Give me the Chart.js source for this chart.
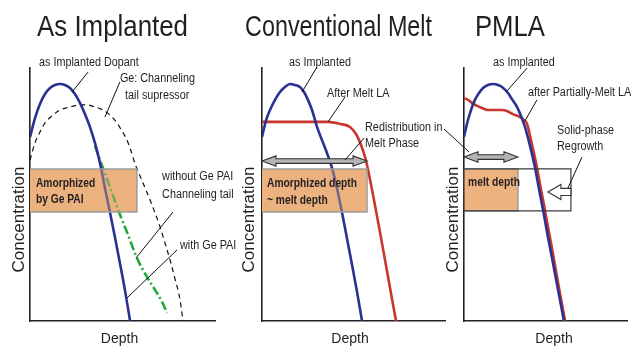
<!DOCTYPE html>
<html><head><meta charset="utf-8">
<script src="https://cdn.jsdelivr.net/npm/chart.js@4/dist/chart.umd.min.js"></script>
<style>
html,body{margin:0;padding:0;background:#fff;}
#wrap{position:relative;width:644px;height:348px;overflow:hidden;background:#fff;}
canvas{position:absolute;top:0;}
</style></head><body>
<div id="wrap">
<canvas id="c1" width="236" height="348" style="left:0px;width:236px;height:348px"></canvas>
<canvas id="c2" width="218" height="348" style="left:232px;width:218px;height:348px"></canvas>
<canvas id="c3" width="204" height="348" style="left:440px;width:204px;height:348px"></canvas>
</div>
<script>
// ---------- DATA (depth and concentration in arbitrary units, 0-100) ----------
// Panel 1: As Implanted
const p1BlueDepth = [0,2.7,5.4,8.1,10.8,13.5,16.2,18.9,21.6,24.3,27.0,29.7,32.4,35.1,37.8,40.5,43.2,45.9,48.6,51.4,54.1];
const p1BlueConc  = [72.7,80.2,85.8,89.7,92.1,93.3,93.7,93.3,92.1,89.7,86.2,81.8,76.7,70.4,62.5,52.6,43.1,33.2,22.9,11.9,0];
const p1GeDepth = [0,2.7,5.4,8.1,12.4,16.2,21.6,27.0,30.8,35.1,39.5,43.2,47.0,49.7,52.4,54.6,56.8,59.5,62.2,64.9,67.6,70.3,73.0,75.7,78.4,81.1,82.7];
const p1GeConc  = [63.6,70.4,74.7,78.3,81.4,83.4,84.6,85.4,85.4,84.6,83.4,81.4,78.3,75.1,71.5,67.2,62.1,57.3,52.6,47.8,42.7,37.2,30.8,24.1,16.6,8.3,0];
const p1TailDepth = [35.1,41.6,48.1,53.0,57.8,63.2,68.6,71.4,74.1];
const p1TailConc  = [69.2,56.1,43.1,34.0,24.9,17.4,11.1,7.5,3.2];
// Panel 2: Conventional Melt
const p2BlueDepth = [0,2.2,4.5,7.3,10.1,12.9,15.7,18.5,21.3,23.6,25.8,28.1,30.9,33.7,36.5,39.3,42.1,44.9,47.8,50.6,53.4,56.2];
const p2BlueConc  = [72.7,79.1,83.4,87.4,90.5,92.5,93.7,93.3,92.5,90.5,87.4,83.4,76.7,71.5,66.4,60.5,52.6,43.1,32.4,22.1,11.5,0];
const p2MeltDepth = [0,37.1,43.8,49.4,52.8,55.6,57.9,59.6,75.3];
const p2MeltConc  = [78.7,78.7,77.9,76.7,73.9,69.6,64.8,59.7,0];
// Panel 3: PMLA
const p3BlueDepth = [0,1.8,3.7,6.7,9.2,11.7,14.7,17.8,20.9,23.3,27.0,29.4,32.5,35.0,37.4,40.5,43.6,46.0,48.5,51.5,54.0,57.7,61.3];
const p3BlueConc  = [72.7,77.9,82.2,87.4,90.1,92.1,93.3,93.7,93.3,92.5,90.1,87.7,84.6,81.0,76.7,69.2,60.5,52.2,43.9,33.2,24.9,12.3,0];
const p3PmlaDepth = [0,2.5,4.9,8.0,11.0,14.7,19.0,23.3,26.4,28.8,31.3,34.4,36.8,38.7,41.1,44.2,46.6,49.1,52.1,54.6,58.3,62.0];
const p3PmlaConc  = [88.1,87.4,86.2,85.0,84.2,83.4,83.4,83.4,83.0,82.2,81.4,80.6,79.4,77.9,71.5,62.5,54.2,45.8,35.2,26.5,13.0,0];

const panelTitles = ['As Implanted','Conventional Melt','PMLA'];
const xAxisTitle = 'Depth';
const yAxisTitle = 'Concentration';

// ---------- STYLE ----------
const FONT = '"Liberation Sans", Arial, Helvetica, sans-serif';
const INK = '#231f20';
const BLUE = '#2b3192', RED = '#c8362c', GREEN = '#22a83e';
const ORANGE = 'rgb(236,178,128)';

function pts(xs, ys){ return xs.map((x,i)=>({x:x, y:ys[i]})); }

class OffsetLinear extends Chart.LinearScale {
  drawTitle(){
    const o = this.options;
    const dx = +o.titleShiftX || 0, dy = +o.titleShiftY || 0;
    const ctx = this.ctx;
    ctx.save(); ctx.translate(dx, dy); super.drawTitle(); ctx.restore();
  }
}
OffsetLinear.id = 'offsetLinear';
Chart.register(OffsetLinear);

// ---------- ANNOTATIONS (in data units) ----------
const ANNOT = {
  c1: {
    title: {text: panelTitles[0], x: 44.6, y: 112.6, width: 151},
    boxes: [{x0:0, x1:57.8, y0:43.1, y1:60.1, fill:true, overlay:true, stroke:'#9d9d9d'}],
    labels: [
      ['as Implanted Dopant', 4.9, 102.0],
      ['Ge: Channeling', 48.6, 95.7],
      ['tail supressor', 51.4, 88.9],
      ['without Ge PAI', 71.4, 56.9],
      ['Channeling tail', 71.4, 49.8],
      ['with Ge PAI', 81.1, 29.6]
    ],
    bold: [['Amorphized', 3.2, 54.5], ['by Ge PAI', 3.2, 48.2]],
    leaders: [[31.4,98.4,22.7,90.5],[48.6,94.5,40.5,80.6],[77.3,43.1,57.3,24.9],[79.5,28.1,52.4,9.1]],
    dblArrows: [], hollow: []
  },
  c2: {
    title: {text: panelTitles[1], x: 43.0, y: 112.6, width: 187},
    boxes: [{x0:0, x1:59.0, y0:43.1, y1:60.1, fill:true, overlay:true, stroke:'#9d9d9d'}],
    labels: [
      ['as Implanted', 15.2, 102.0],
      ['After Melt LA', 36.5, 89.7],
      ['Redistribution in', 57.9, 76.3],
      ['Melt Phase', 57.9, 70.0]
    ],
    bold: [['Amorphized depth', 2.8, 54.5], ['~ melt depth', 2.8, 47.8]],
    leaders: [[30.9,100.4,22.5,90.5],[46.6,88.5,37.1,78.7],[57.3,72.3,46.6,63.6]],
    dblArrows: [[0, 59.0, 63.2]], hollow: []
  },
  c3: {
    title: {text: panelTitles[2], x: 28.2, y: 112.6, width: 70},
    boxes: [
      {x0:0, x1:33.1, y0:43.5, y1:60.1, fill:true, overlay:false, stroke:'#9d9d9d'},
      {x0:0, x1:65.6, y0:43.5, y1:60.1, fill:false, overlay:false, stroke:'#3a3a3a', full:true}
    ],
    labels: [
      ['as Implanted', 17.8, 102.0],
      ['after Partially-Melt LA', 39.3, 90.1],
      ['Solid-phase', 57.1, 75.1],
      ['Regrowth', 57.1, 68.8]
    ],
    bold: [['melt depth', 2.5, 54.9]],
    leaders: [[38.7,100,25.8,90.5],[44.8,87.4,37.4,79.1],[72.4,64.8,63.8,52.6],[-12.3,75.9,3.1,66.8]],
    dblArrows: [[0, 33.1, 64.8]], hollow: [[51.5, 65.6, 51.0]]
  }
};

function txt(ctx, text, x, y, font, sx, center){
  ctx.save();
  ctx.font = font; ctx.fillStyle = INK; ctx.textBaseline = 'middle'; ctx.textAlign = 'left';
  ctx.translate(x, y); ctx.scale(sx, 1);
  const w = ctx.measureText(text).width;
  ctx.fillText(text, center ? -w/2 : 0, 0);
  ctx.restore();
}

function boxPx(chart, b){
  const X = chart.scales.x, Y = chart.scales.y;
  return {l: X.getPixelForValue(b.x0), r: X.getPixelForValue(b.x1), t: Y.getPixelForValue(b.y1), b: Y.getPixelForValue(b.y0)};
}

const annotPlugin = {
  id: 'annot',
  beforeDatasetsDraw(chart){
    const a = ANNOT[chart.canvas.id]; const ctx = chart.ctx;
    a.boxes.forEach(b => {
      if (!b.fill) return;
      const p = boxPx(chart, b);
      ctx.save(); ctx.fillStyle = ORANGE; ctx.fillRect(p.l, p.t, p.r - p.l, p.b - p.t); ctx.restore();
    });
  },
  afterDatasetsDraw(chart){
    const a = ANNOT[chart.canvas.id]; const ctx = chart.ctx;
    const X = v => chart.scales.x.getPixelForValue(v), Y = v => chart.scales.y.getPixelForValue(v);
    // box overlay + borders
    a.boxes.forEach(b => {
      const p = boxPx(chart, b);
      ctx.save();
      if (b.overlay){ ctx.globalAlpha = 0.4; ctx.fillStyle = ORANGE; ctx.fillRect(p.l, p.t, p.r - p.l, p.b - p.t); ctx.globalAlpha = 1; }
      ctx.strokeStyle = b.stroke; ctx.lineWidth = b.full ? 1.2 : 1.5;
      ctx.beginPath();
      if (b.full){ ctx.rect(p.l, p.t, p.r - p.l, p.b - p.t); }
      else { ctx.moveTo(p.l, p.t); ctx.lineTo(p.r, p.t); ctx.lineTo(p.r, p.b); ctx.lineTo(p.l, p.b); }
      ctx.stroke();
      ctx.restore();
    });
    // double arrows
    a.dblArrows.forEach(d => {
      const x0 = X(d[0]), x1 = X(d[1]), y = Y(d[2]);
      const hl = 14, hh = 5.2, sh = 2.3;
      ctx.save();
      ctx.beginPath();
      ctx.moveTo(x0, y);
      ctx.lineTo(x0 + hl, y - hh); ctx.lineTo(x0 + hl, y - sh); ctx.lineTo(x1 - hl, y - sh);
      ctx.lineTo(x1 - hl, y - hh); ctx.lineTo(x1, y); ctx.lineTo(x1 - hl, y + hh);
      ctx.lineTo(x1 - hl, y + sh); ctx.lineTo(x0 + hl, y + sh); ctx.lineTo(x0 + hl, y + hh);
      ctx.closePath();
      ctx.fillStyle = '#b4b4b4'; ctx.fill();
      ctx.strokeStyle = '#333'; ctx.lineWidth = 1.1; ctx.stroke();
      ctx.restore();
    });
    // hollow arrows (pointing left)
    a.hollow.forEach(d => {
      const x0 = X(d[0]), x1 = X(d[1]), y = Y(d[2]);
      const hl = 13, hh = 7.5, sh = 3.6;
      ctx.save();
      ctx.beginPath();
      ctx.moveTo(x0, y); ctx.lineTo(x0 + hl, y - hh); ctx.lineTo(x0 + hl, y - sh); ctx.lineTo(x1, y - sh);
      ctx.lineTo(x1, y + sh); ctx.lineTo(x0 + hl, y + sh); ctx.lineTo(x0 + hl, y + hh); ctx.closePath();
      ctx.fillStyle = '#fff'; ctx.fill();
      ctx.strokeStyle = '#333'; ctx.lineWidth = 1.1; ctx.stroke();
      ctx.restore();
    });
    // leader lines
    ctx.save(); ctx.strokeStyle = '#111'; ctx.lineWidth = 1;
    a.leaders.forEach(l => { ctx.beginPath(); ctx.moveTo(X(l[0]), Y(l[1])); ctx.lineTo(X(l[2]), Y(l[3])); ctx.stroke(); });
    ctx.restore();
    // labels
    a.labels.forEach(t => txt(ctx, t[0], X(t[1]), Y(t[2]), '12px ' + FONT, 0.9, false));
    a.bold.forEach(t => txt(ctx, t[0], X(t[1]), Y(t[2]), 'bold 13.5px ' + FONT, 0.76, false));
    // panel title
    const T = a.title;
    ctx.save(); ctx.font = '30px ' + FONT;
    const sx = T.width / ctx.measureText(T.text).width;
    ctx.restore();
    ctx.save(); ctx.font = '30px ' + FONT; ctx.fillStyle = INK; ctx.textBaseline = 'alphabetic';
    ctx.translate(X(T.x), Y(T.y)); ctx.scale(sx, 1); ctx.textAlign = 'center'; ctx.fillText(T.text, 0, 0);
    ctx.restore();
  }
};

function lineDs(data, color, width, dash){
  return {data: data, borderColor: color, borderWidth: width, borderDash: dash || [], pointRadius: 0,
          fill: false, cubicInterpolationMode: 'monotone', borderCapStyle: 'butt', borderJoinStyle: 'round'};
}

function makeChart(id, datasets, cfg){
  return new Chart(document.getElementById(id), {
    type: 'line',
    data: {datasets: datasets},
    options: {
      responsive: false, animation: false, devicePixelRatio: 1, events: [],
      parsing: true,
      layout: {padding: {top: 68, right: cfg.padRight, left: 0, bottom: 0}},
      plugins: {legend: {display: false}, tooltip: {enabled: false}, title: {display: false}},
      scales: {
        x: {type: 'offsetLinear', min: 0, max: cfg.xMax, titleShiftX: cfg.depthShift,
            grid: {display: false}, ticks: {display: false},
            border: {display: true, color: '#222', width: 1.6},
            title: {display: true, text: xAxisTitle, color: INK, font: {family: FONT, size: 14}, padding: 0},
            afterFit: s => { s.height = 27; }},
        y: {type: 'offsetLinear', min: 0, max: 100, titleShiftY: 25,
            grid: {display: false}, ticks: {display: false},
            border: {display: true, color: '#222', width: 1.6},
            title: {display: true, text: yAxisTitle, color: INK, font: {family: FONT, size: 17}, padding: {top: cfg.yTitlePad, bottom: 0}},
            afterFit: s => { s.width = cfg.yWidth; }}
      }
    },
    plugins: [annotPlugin]
  });
}

makeChart('c1', [
  lineDs(pts(p1BlueDepth, p1BlueConc), BLUE, 2.6),
  lineDs(pts(p1TailDepth, p1TailConc), GREEN, 2.6, [9,3,2,3]),
  lineDs(pts(p1GeDepth, p1GeConc), '#111', 1.2, [5,4])
], {padRight: 21, xMax: 100, depthShift: -3, yWidth: 30, yTitlePad: 8.8});

makeChart('c2', [
  lineDs(pts(p2BlueDepth, p2BlueConc), BLUE, 2.6),
  lineDs(pts(p2MeltDepth, p2MeltConc), RED, 2.6)
], {padRight: 5, xMax: 102.8, depthShift: -3.5, yWidth: 30, yTitlePad: 6.8});

makeChart('c3', [
  lineDs(pts(p3BlueDepth, p3BlueConc), BLUE, 2.6),
  lineDs(pts(p3PmlaDepth, p3PmlaConc), RED, 2.6)
], {padRight: 17, xMax: 100, depthShift: 8.5, yWidth: 24, yTitlePad: 2.8});
</script>
</body></html>
